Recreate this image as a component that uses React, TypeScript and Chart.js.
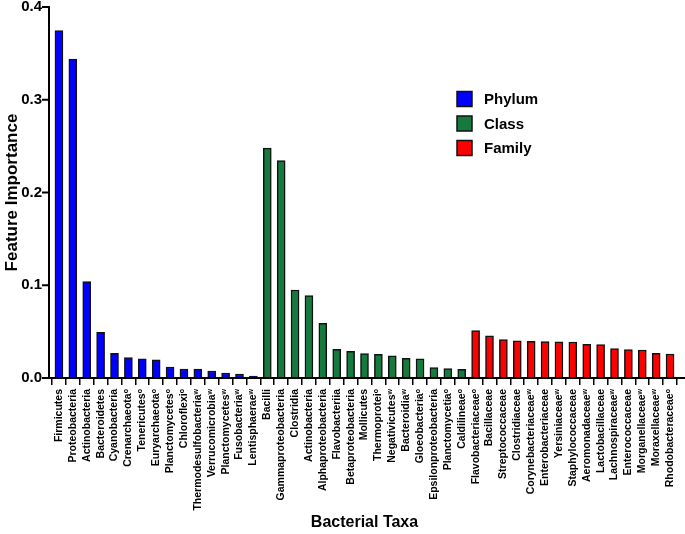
import React, { useEffect, useRef } from "react";
import { Chart, registerables } from "chart.js";
Chart.register(...registerables);

const O = "\u1D52";
const W = "\u02B7";

const phylumLabels = [
  "Firmicutes", "Proteobacteria", "Actinobacteria", "Bacteroidetes", "Cyanobacteria",
  "Crenarchaeota" + O, "Tenericutes" + O, "Euryarchaeota" + O, "Planctomycetes" + O, "Chloroflexi" + O,
  "Thermodesulfobacteria" + W, "Verrucomicrobia" + W, "Planctomycetes" + W, "Fusobacteria" + W, "Lentisphaerae" + W,
];
const phylumValues = [0.3747, 0.3438, 0.1039, 0.0493, 0.0266, 0.0219, 0.0208, 0.0197, 0.0119, 0.0097, 0.0095, 0.0075, 0.0054, 0.0043, 0.002];

const classLabels = [
  "Bacilli", "Gammaproteobacteria", "Clostridia", "Actinobacteria", "Alphaproteobacteria",
  "Flavobacteriia", "Betaproteobacteria", "Mollicutes", "Thermoprotei" + O, "Negativicutes" + W,
  "Bacteroidia" + W, "Gloeobacteria" + O, "Epsilonproteobacteria", "Planctomycetia" + O, "Caldilineae" + O,
];
const classValues = [0.2478, 0.2344, 0.0949, 0.0888, 0.059, 0.031, 0.0288, 0.0262, 0.0255, 0.024, 0.0212, 0.0208, 0.0111, 0.0101, 0.0094];

const familyLabels = [
  "Flavobacteriaceae" + O, "Bacillaceae", "Streptococcaceae", "Clostridiaceae", "Corynebacteriaceae" + W,
  "Enterobacteriaceae", "Yersiniaceae" + W, "Staphylococcaceae", "Aeromonadaceae" + W, "Lactobacillaceae",
  "Lachnospiraceae" + W, "Enterococcaceae", "Morganellaceae" + W, "Moraxellaceae" + W, "Rhodobacteraceae" + O,
];
const familyValues = [0.0512, 0.0455, 0.0413, 0.0402, 0.0395, 0.0392, 0.039, 0.0388, 0.0363, 0.036, 0.0316, 0.0306, 0.0302, 0.0266, 0.0259];

const groupNames = ["Phylum", "Class", "Family"];
const groupColors = ["#0000FF", "#157A3E", "#FF0000"];
const yTicks = [0, 0.1, 0.2, 0.3, 0.4];

const FONT = "Arial, 'Liberation Sans', sans-serif";

export default function App() {
  const ref = useRef<HTMLCanvasElement | null>(null);

  useEffect(() => {
    document.body.style.margin = "0";
    const labels = [...phylumLabels, ...classLabels, ...familyLabels];
    const values = [...phylumValues, ...classValues, ...familyValues];
    const colors = [
      ...phylumValues.map(() => groupColors[0]),
      ...classValues.map(() => groupColors[1]),
      ...familyValues.map(() => groupColors[2]),
    ];

    const customDraw = {
      id: "customDraw",
      afterDraw(chart: any) {
        const { ctx, chartArea, scales } = chart;
        const ys = scales.y;
        const y0 = ys.getPixelForValue(0);
        const yTop = ys.getPixelForValue(0.4);
        const ax = chartArea.left - 3;
        ctx.save();
        ctx.strokeStyle = "#000";
        ctx.lineWidth = 2;
        ctx.beginPath();
        ctx.moveTo(ax, yTop - 1);
        ctx.lineTo(ax, y0);
        ctx.lineTo(chart.width, y0);
        ctx.stroke();
        ctx.beginPath();
        yTicks.forEach((t) => {
          const py = ys.getPixelForValue(t);
          ctx.moveTo(ax - 7, py);
          ctx.lineTo(ax, py);
        });
        ctx.stroke();

        // legend
        const lx = 457;
        const ly0 = 99;
        const step = 24.5;
        groupNames.forEach((name, i) => {
          const cy = ly0 + i * step;
          ctx.fillStyle = groupColors[i];
          ctx.fillRect(lx, cy - 7.5, 15, 15);
          ctx.strokeStyle = "#111";
          ctx.lineWidth = 1.5;
          ctx.strokeRect(lx, cy - 7.5, 15, 15);
          ctx.fillStyle = "#000";
          ctx.font = `bold 15px ${FONT}`;
          ctx.textBaseline = "middle";
          ctx.textAlign = "left";
          ctx.fillText(name, lx + 27, cy + 1);
        });
        ctx.restore();
      },
    };

    const chart = new Chart(ref.current as HTMLCanvasElement, {
      type: "bar",
      data: {
        labels,
        datasets: [
          {
            data: values,
            backgroundColor: colors,
            borderColor: "#111",
            borderWidth: 1.5,
            barThickness: 8,
          },
        ],
      },
      options: {
        animation: false,
        responsive: false,
        layout: { padding: { top: 7, right: 8, bottom: 2, left: 0 } },
        plugins: { legend: { display: false }, tooltip: { enabled: false } },
        scales: {
          x: {
            type: "category",
            grid: { display: true, drawOnChartArea: false, tickLength: 7, color: "#000", lineWidth: 1.5 },
            border: { display: false },
            ticks: {
              autoSkip: false,
              minRotation: 90,
              maxRotation: 90,
              padding: 4,
              color: "#000",
              font: { family: FONT, size: 10.5, weight: "bold" },
            },
            title: {
              display: true,
              text: "Bacterial Taxa",
              color: "#000",
              font: { family: FONT, size: 16, weight: "bold" },
              padding: { top: 0, bottom: 0 },
            },
            afterFit(scale: any) {
              scale.height = 154;
              scale.paddingLeft = 0;
              scale.paddingRight = 0;
            },
          },
          y: {
            min: 0,
            max: 0.4,
            grid: { display: false, drawTicks: false },
            border: { display: false },
            afterBuildTicks(scale: any) {
              scale.ticks = yTicks.map((v) => ({ value: v }));
            },
            ticks: {
              padding: 10,
              color: "#000",
              font: { family: FONT, size: 15, weight: "bold" },
              callback: (v: any) => Number(v).toFixed(1),
            },
            title: {
              display: true,
              text: "Feature Importance",
              color: "#000",
              font: { family: FONT, size: 17, weight: "bold" },
              padding: { top: 2, bottom: 0 },
            },
            afterFit(scale: any) {
              scale.width = 52;
              scale.paddingTop = 0;
              scale.paddingBottom = 0;
            },
          },
        },
      },
      plugins: [customDraw],
    });
    return () => chart.destroy();
  }, []);

  return (
    <div style={{ width: 685, height: 534, background: "#fff" }}>
      <canvas ref={ref} width={685} height={534} style={{ display: "block" }} />
    </div>
  );
}
